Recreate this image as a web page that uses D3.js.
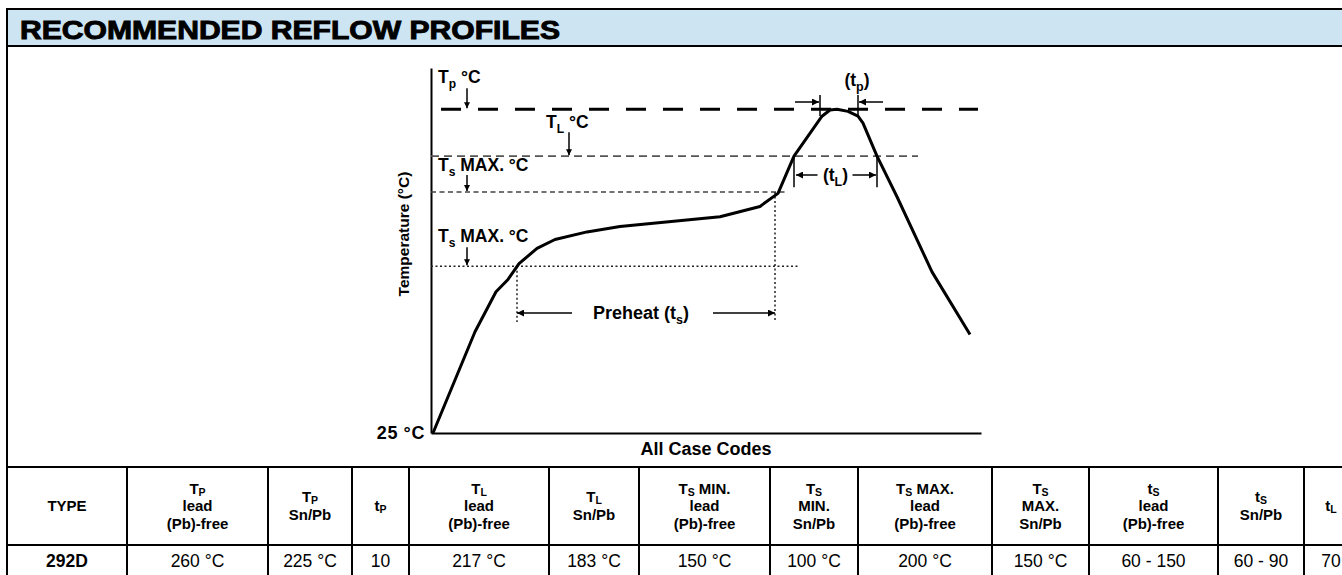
<!DOCTYPE html>
<html>
<head>
<meta charset="utf-8">
<script src="https://cdn.jsdelivr.net/npm/d3@7"></script>
<style>
    body { margin: 0; background: #fff; }
    svg { display: block; font-family: "Liberation Sans", Arial, Helvetica, sans-serif; }
</style>
</head>
<body>
<svg id="main_svg" width="1342" height="575"></svg>
<script>
// reflow profile curve (schematic)
const profileTime = [1, 22, 32.5, 38.5, 44, 53, 62, 78, 94.5, 144.5, 164.5, 173.5, 181.5, 195.5, 199.5, 203, 208.5, 213.5, 216, 223, 233, 250.5, 269.5];
const profileTemp = [25, 98.5, 127.5, 136.5, 148, 159, 165.5, 171, 175, 182, 189.5, 199, 226, 255, 259.5, 260, 258.5, 255, 250, 226, 196.5, 142, 96.5];

// reference levels
const levelLabels = ["T_p °C", "T_L °C", "T_s MAX. °C", "T_s MAX. °C"];
const levelTemps = [260, 226, 200, 146];
const levelFrom = [5, 0, 0, 0];
const levelTo = [273.5, 243.5, 178.5, 183.5];

// time spans
const preheatTimes = [43, 172];
const liquidusTimes = [181.5, 223];
const peakTimes = [194.5, 213.5];

// table
const tableHeaders = [
    ["TYPE"],
    ["T_P", "lead", "(Pb)-free"],
    ["T_P", "Sn/Pb"],
    ["t_P"],
    ["T_L", "lead", "(Pb)-free"],
    ["T_L", "Sn/Pb"],
    ["T_S MIN.", "lead", "(Pb)-free"],
    ["T_S", "MIN.", "Sn/Pb"],
    ["T_S MAX.", "lead", "(Pb)-free"],
    ["T_S", "MAX.", "Sn/Pb"],
    ["t_S", "lead", "(Pb)-free"],
    ["t_S", "Sn/Pb"],
    ["t_L"],
];
const tableRow = ["292D", "260 °C", "225 °C", "10", "217 °C", "183 °C", "150 °C", "100 °C", "200 °C", "150 °C", "60 - 150", "60 - 90", "70"];

const svg = d3.select("svg");
const W = 1342;

//////////// HELPERS ////////////

// text with "_x" subscripts
function rich(sel, str, subSize, shift) {
    const parts = str.split(/_(.)/);
    let off = 0;
    parts.forEach((p, i) => {
        if (p === "") return;
        if (i % 2 === 1) {
            sel.append("tspan").attr("font-size", subSize).attr("dy", shift - off).text(p);
            off = shift;
        } else {
            sel.append("tspan").attr("dy", -off).text(p);
            off = 0;
        }
    });
    return sel;
}

const defs = svg.append("defs");
function marker(id, len, wid) {
    defs.append("marker")
        .attr("id", id)
        .attr("viewBox", "0 0 10 10")
        .attr("refX", 10)
        .attr("refY", 5)
        .attr("markerUnits", "userSpaceOnUse")
        .attr("markerWidth", len)
        .attr("markerHeight", wid)
        .attr("orient", "auto")
        .append("path")
        .attr("d", "M0,0L10,5L0,10z")
        .attr("fill", "#000");
}
marker("arrBig", 13, 7);
marker("arrSmall", 9, 6);

//////////// FRAME + TITLE ////////////

svg.append("rect")
    .attr("x", 7).attr("y", 9)
    .attr("width", W).attr("height", 37)
    .attr("fill", "#cde4f2");

svg.append("line").attr("x1", 6).attr("x2", W).attr("y1", 9).attr("y2", 9)
    .attr("stroke", "#000").attr("stroke-width", 2);
svg.append("line").attr("x1", 6).attr("x2", W).attr("y1", 46).attr("y2", 46)
    .attr("stroke", "#000").attr("stroke-width", 2);
svg.append("line").attr("x1", 7).attr("x2", 7).attr("y1", 8).attr("y2", 580)
    .attr("stroke", "#000").attr("stroke-width", 2);

svg.append("text")
    .attr("x", 20).attr("y", 38.5)
    .attr("font-size", 25)
    .attr("font-weight", "bold")
    .attr("stroke", "#000").attr("stroke-width", 0.9)
    .attr("textLength", 540)
    .attr("lengthAdjust", "spacingAndGlyphs")
    .text("RECOMMENDED REFLOW PROFILES");

//////////// CHART ////////////

const x = d3.scaleLinear().domain([0, 275]).range([431, 981]);
const y = d3.scaleLinear().domain([25, 290]).range([433, 68]);

const chart = svg.append("g");

const yAxis = chart.append("g")
    .attr("transform", `translate(${x(0)},0)`)
    .call(d3.axisLeft(y).tickValues([25]).tickSize(0).tickSizeOuter(0).tickPadding(6).tickFormat(d => d + " °C"));
const xAxis = chart.append("g")
    .attr("transform", `translate(0,${y(25)})`)
    .call(d3.axisBottom(x).tickValues([]).tickSizeOuter(0));
[yAxis, xAxis].forEach(a => {
    a.attr("font-family", null).attr("font-size", 18).attr("font-weight", "bold");
    a.select(".domain").attr("stroke-width", 2);
});
yAxis.selectAll(".tick text").attr("letter-spacing", 0.6);

chart.append("text")
    .attr("transform", "translate(409,234) rotate(-90)")
    .attr("text-anchor", "middle")
    .attr("font-size", 15.5).attr("font-weight", "bold")
    .text("Temperature (°C)");

chart.append("text")
    .attr("x", (x.range()[0] + x.range()[1]) / 2).attr("y", 455)
    .attr("text-anchor", "middle")
    .attr("font-size", 18).attr("font-weight", "bold")
    .text("All Case Codes");

// level lines
const levelDash = ["20,17", "8,5", "5,3.5", "2,2.5"];
const levelWidth = [3, 1.8, 1.5, 1.5];
const levelColor = ["#000", "#555", "#444", "#222"];
levelTemps.forEach((v, i) => {
    chart.append("line")
        .attr("x1", x(levelFrom[i])).attr("x2", x(levelTo[i]))
        .attr("y1", y(v)).attr("y2", y(v))
        .attr("stroke", levelColor[i])
        .attr("stroke-width", levelWidth[i])
        .attr("stroke-dasharray", levelDash[i]);
});

// level labels with down arrows
const labelT = [3.5, 57.5, 3.5, 3.5];
const arrowT = [18, 69, 18, 18];
const labelUp = [26, 28, 21, 24];
const arrowTop = [21, 24, 17, 19];
levelTemps.forEach((v, i) => {
    rich(chart.append("text")
        .attr("x", x(labelT[i])).attr("y", y(v) - labelUp[i])
        .attr("font-size", 17.5).attr("font-weight", "bold"), levelLabels[i], 12, 5);
    chart.append("line")
        .attr("x1", x(arrowT[i])).attr("x2", x(arrowT[i]))
        .attr("y1", y(v) - arrowTop[i]).attr("y2", y(v) - 1)
        .attr("stroke", "#000").attr("stroke-width", 1.5)
        .attr("marker-end", "url(#arrSmall)");
});

// preheat verticals
preheatTimes.forEach((t, i) => {
    chart.append("line")
        .attr("x1", x(t)).attr("x2", x(t))
        .attr("y1", y(levelTemps[3 - i])).attr("y2", 322)
        .attr("stroke", "#222").attr("stroke-width", 1.5)
        .attr("stroke-dasharray", "2,2.5");
});

// profile curve
const profile = profileTime.map((t, i) => [t, profileTemp[i]]);
chart.append("path")
    .datum(profile)
    .attr("fill", "none")
    .attr("stroke", "#000")
    .attr("stroke-width", 3)
    .attr("stroke-linejoin", "round")
    .attr("d", d3.line().x(d => x(d[0])).y(d => y(d[1])));

// preheat span
const phY = 313;
chart.append("line")
    .attr("x1", 572).attr("x2", x(preheatTimes[0])).attr("y1", phY).attr("y2", phY)
    .attr("stroke", "#000").attr("stroke-width", 1.5).attr("marker-end", "url(#arrBig)");
chart.append("line")
    .attr("x1", 713).attr("x2", x(preheatTimes[1])).attr("y1", phY).attr("y2", phY)
    .attr("stroke", "#000").attr("stroke-width", 1.5).attr("marker-end", "url(#arrBig)");
rich(chart.append("text")
    .attr("x", 641).attr("y", phY + 6)
    .attr("text-anchor", "middle")
    .attr("font-size", 18).attr("font-weight", "bold"), "Preheat (t_s)", 12.5, 5);

// liquidus span (tL)
const tlTop = y(levelTemps[1]);
liquidusTimes.forEach(t => {
    chart.append("line")
        .attr("x1", x(t)).attr("x2", x(t)).attr("y1", tlTop).attr("y2", tlTop + 31)
        .attr("stroke", "#000").attr("stroke-width", 1.5);
});
const tlY = 175;
const tlMid = (x(liquidusTimes[0]) + x(liquidusTimes[1])) / 2;
chart.append("line")
    .attr("x1", tlMid - 18).attr("x2", x(liquidusTimes[0]) + 2).attr("y1", tlY).attr("y2", tlY)
    .attr("stroke", "#000").attr("stroke-width", 1.5).attr("marker-end", "url(#arrBig)");
chart.append("line")
    .attr("x1", tlMid + 17).attr("x2", x(liquidusTimes[1]) - 1).attr("y1", tlY).attr("y2", tlY)
    .attr("stroke", "#000").attr("stroke-width", 1.5).attr("marker-end", "url(#arrBig)");
rich(chart.append("text")
    .attr("x", tlMid).attr("y", tlY + 6)
    .attr("text-anchor", "middle")
    .attr("font-size", 17.5).attr("font-weight", "bold"), "(t_L)", 12.5, 5);

// peak span (tp)
const tpY = 102;
peakTimes.forEach((t, i) => {
    chart.append("line")
        .attr("x1", x(t)).attr("x2", x(t)).attr("y1", 95).attr("y2", 116)
        .attr("stroke", "#000").attr("stroke-width", 1.5);
    chart.append("line")
        .attr("x1", x(t) + (i === 0 ? -25 : 25)).attr("x2", x(t) + (i === 0 ? -1 : 1))
        .attr("y1", tpY).attr("y2", tpY)
        .attr("stroke", "#000").attr("stroke-width", 1.5).attr("marker-end", "url(#arrBig)");
});
rich(chart.append("text")
    .attr("x", (x(peakTimes[0]) + x(peakTimes[1])) / 2 + 18).attr("y", 86)
    .attr("text-anchor", "middle")
    .attr("font-size", 17.5).attr("font-weight", "bold"), "(t_p)", 12.5, 5);

//////////// TABLE ////////////

const colWidths = [120, 141, 84, 57, 140, 90, 131, 88, 134, 97, 129, 86, 54];
const colEdges = [7];
colWidths.forEach(w => colEdges.push(colEdges[colEdges.length - 1] + w));
const tTop = 467, tMid = 545, tBot = 578;

const table = svg.append("g");
[tTop, tMid].forEach(yy => {
    table.append("line").attr("x1", 6).attr("x2", W).attr("y1", yy).attr("y2", yy)
        .attr("stroke", "#000").attr("stroke-width", 2);
});
table.selectAll("line.col")
    .data(colEdges.slice(1, -1))
    .enter()
    .append("line")
    .attr("class", "col")
    .attr("x1", d => d).attr("x2", d => d)
    .attr("y1", tTop).attr("y2", tBot)
    .attr("stroke", "#000").attr("stroke-width", 2);

const lineGap = 17.5;
tableHeaders.forEach((lines, i) => {
    const cx = (colEdges[i] + colEdges[i + 1]) / 2;
    const first = 511 - (lines.length - 1) * lineGap / 2;
    lines.forEach((s, j) => {
        rich(table.append("text")
            .attr("x", cx).attr("y", first + j * lineGap)
            .attr("text-anchor", "middle")
            .attr("font-size", 15).attr("font-weight", "bold"), s, 10.5, 2);
    });
});

tableRow.forEach((s, i) => {
    table.append("text")
        .attr("x", (colEdges[i] + colEdges[i + 1]) / 2).attr("y", 567)
        .attr("text-anchor", "middle")
        .attr("font-size", 17.5)
        .attr("font-weight", i === 0 ? "bold" : null)
        .text(s);
});
</script>
</body>
</html>
